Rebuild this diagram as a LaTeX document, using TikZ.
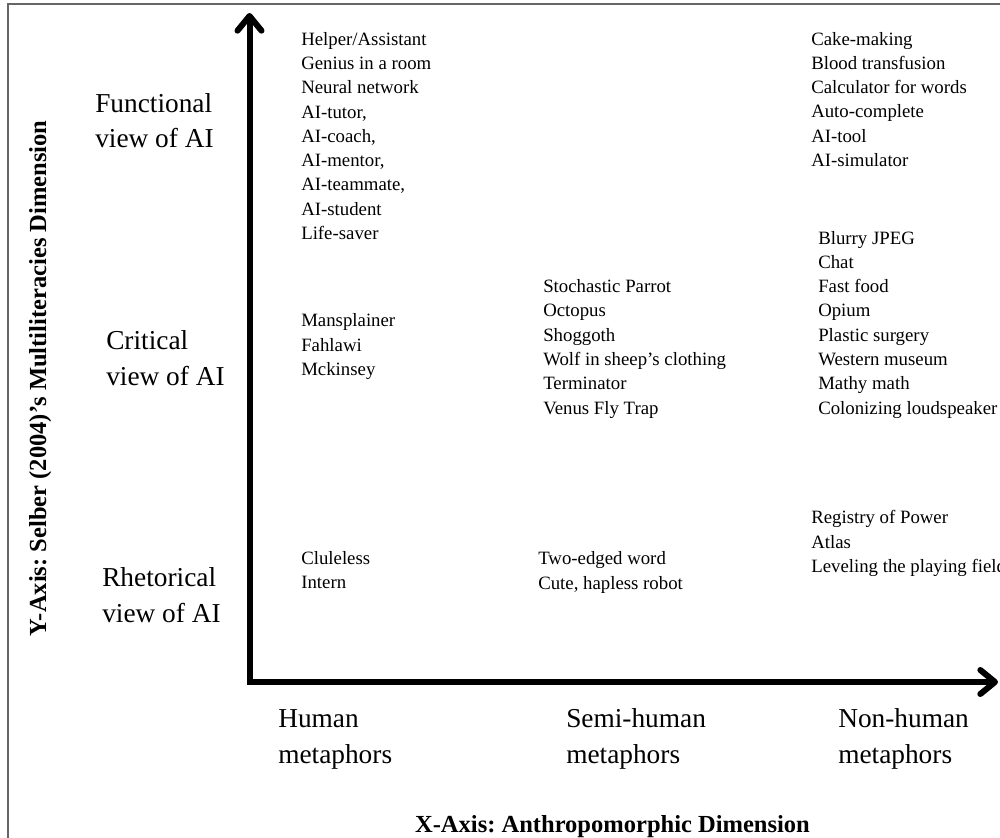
\documentclass[tikz,border=0pt]{standalone}
\usepackage{fontspec}
\setmainfont{Liberation Serif}
\usetikzlibrary{arrows.meta}
\frenchspacing
\begin{document}
\begin{tikzpicture}[x=0.75pt,y=-0.75pt,
  item/.style={anchor=base west, inner sep=0pt, align=left, font=\fontsize{14.1}{18.2}\selectfont},
  cat/.style={anchor=base west, inner sep=0pt, align=left, font=\fontsize{20.5}{26.5}\selectfont},
  axistitle/.style={anchor=base, inner sep=0pt, font=\fontsize{18.4}{22}\selectfont\bfseries\frenchspacing},
  axisline/.style={line width=4.5pt, line join=miter,
    {Straight Barb[length=11pt,width=18pt,round]}-{Straight Barb[length=11pt,width=18pt,round]}},
  frameline/.style={draw=black!60, line width=1.5pt}]
\useasboundingbox (0,0) rectangle (1000,838);
\clip (0,0) rectangle (1000,838);
% frame
\coordinate (fbl) at (8,840);
\coordinate (ftl) at (8,4);
\coordinate (ftr) at (1002,4);
\draw[frameline] (fbl) -- (ftl) -- (ftr);
% axes
\coordinate (ytip) at (249.5,13);
\coordinate (orig) at (249.5,682);
\coordinate (xtip) at (998,682);
\draw[axisline] (ytip) -- (orig) -- (xtip);
% axis titles (anchor = baseline)
\node[axistitle] (xtitle) at (612.5,832) {X-Axis: Anthropomorphic Dimension};
\node[axistitle, rotate=90] (ytitle) at (46,378.5) {Y-Axis: Selber (2004)’s Multiliteracies Dimension};
% y categories (anchor = baseline of last line)
\node[cat] (func) at (95,148) {Functional\\view of AI};
\node[cat] (crit) at (106,385) {Critical\\view of AI};
\node[cat] (rhet) at (102,622) {Rhetorical\\view of AI};
% x categories
\node[cat] (hum) at (278,763) {Human\\metaphors};
\node[cat] (semi) at (566,763) {Semi-human\\metaphors};
\node[cat] (non) at (838,763) {Non-human\\metaphors};
% items (anchor = baseline of last line)
\node[item] (c1top) at (301,239.5) {Helper/Assistant\\Genius in a room\\Neural network\\AI-tutor,\\AI-coach,\\AI-mentor,\\AI-teammate,\\AI-student\\Life-saver};
\node[item] (c1mid) at (301,375.5) {Mansplainer\\Fahlawi\\Mckinsey};
\node[item] (c1low) at (301,588.5) {Cluleless\\Intern};
\node[item] (c2mid) at (543,414) {Stochastic Parrot\\Octopus\\Shoggoth\\Wolf in sheep’s clothing\\Terminator\\Venus Fly Trap};
\node[item] (c2low) at (538,589) {Two-edged word\\Cute, hapless robot};
\node[item] (c3top) at (811,166.5) {Cake-making\\Blood transfusion\\Calculator for words\\Auto-complete\\AI-tool\\AI-simulator};
\node[item] (c3mid) at (818,414) {Blurry JPEG\\Chat\\Fast food\\Opium\\Plastic surgery\\Western museum\\Mathy math\\Colonizing loudspeaker};
\node[item] (c3low) at (811,572.5) {Registry of Power\\Atlas\\Leveling the playing field};
\end{tikzpicture}
\end{document}
